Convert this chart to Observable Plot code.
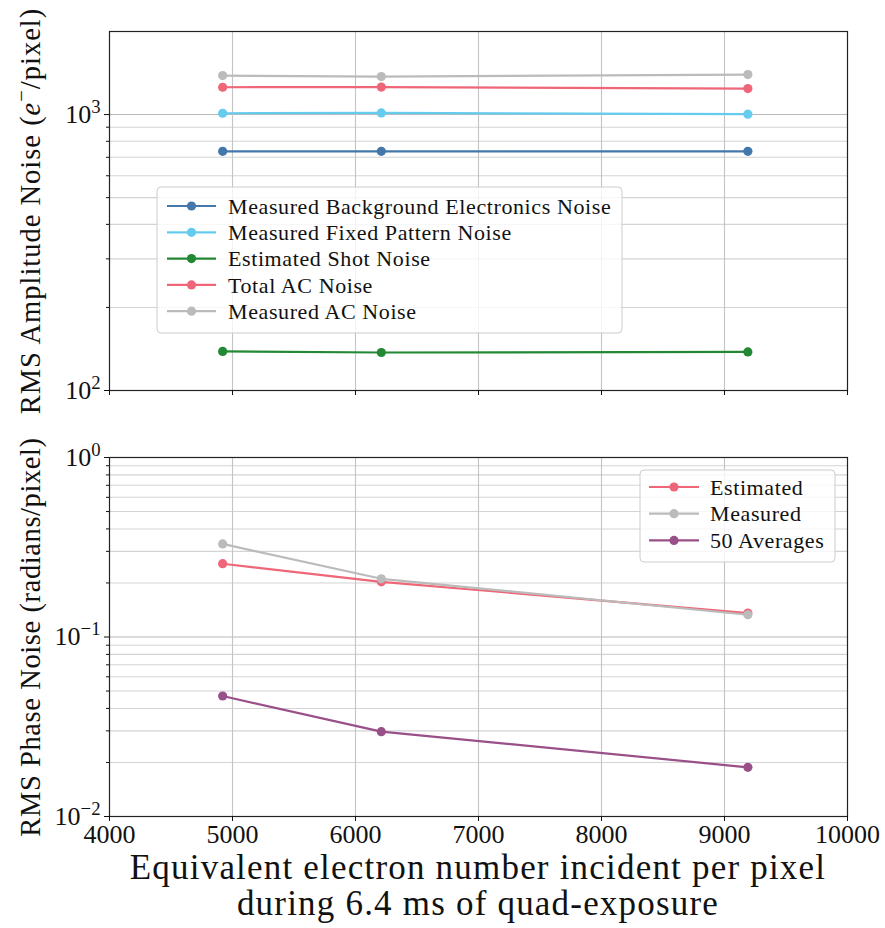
<!DOCTYPE html>
<html>
<head>
<meta charset="utf-8">
<script src="https://cdn.jsdelivr.net/npm/d3@7"></script>
<script src="https://cdn.jsdelivr.net/npm/@observablehq/plot@0.6"></script>
<style>
  body { margin: 0; background: #fff; }
  #wrap { width: 885px; height: 928px; position: relative; font-family: "Liberation Serif", "DejaVu Serif", serif; color: #111; }
  #xlabel { text-align: center; width: 885px; padding-left: 71px; box-sizing: border-box; font-size: 35px; letter-spacing: 1.2px; line-height: 36px; margin-top: 4px; }
</style>
</head>
<body>
<div id="wrap">
  <div id="top"></div>
  <div id="bottom"></div>
  <div id="xlabel">Equivalent electron number incident per pixel<br>during 6.4 ms of quad-exposure</div>
</div>
<script>
// ---------- data ----------
const electrons = [4920, 6210, 9190];

// top panel: RMS amplitude noise (e-/pixel)
const ampSeriesNames = [
  "Measured Background Electronics Noise",
  "Measured Fixed Pattern Noise",
  "Estimated Shot Noise",
  "Total AC Noise",
  "Measured AC Noise"
];
const ampSeriesColors = ["#4477AA", "#66CCEE", "#228833", "#EE6677", "#BBBBBB"];
const backgroundElectronics = [736, 736, 736];
const fixedPattern = [1011, 1014, 1003];
const shotNoise = [138.5, 137.3, 138];
const totalAC = [1256, 1258, 1242];
const measuredAC = [1384, 1373, 1396];
const ampValues = [backgroundElectronics, fixedPattern, shotNoise, totalAC, measuredAC];

// bottom panel: RMS phase noise (radians/pixel)
const phaseSeriesNames = ["Estimated", "Measured", "50 Averages"];
const phaseSeriesColors = ["#EE6677", "#BBBBBB", "#994F88"];
const estimatedPhase = [0.256, 0.203, 0.136];
const measuredPhase = [0.330, 0.211, 0.133];
const averages50Phase = [0.0469, 0.0297, 0.0188];
const phaseValues = [estimatedPhase, measuredPhase, averages50Phase];

// ticks
const xTicks = [4000, 5000, 6000, 7000, 8000, 9000, 10000];
const xGrid = [5000, 6000, 7000, 8000, 9000];
const ampMajor = [100, 1000];
const ampMajorLabels = ["10^2", "10^3"];
const ampMinor = [200, 300, 400, 500, 600, 700, 800, 900];
const phaseMajor = [0.01, 0.1, 1];
const phaseMajorLabels = ["10^\u22122", "10^\u22121", "10^0"];
const phaseMinor = [0.02, 0.03, 0.04, 0.05, 0.06, 0.07, 0.08, 0.09, 0.2, 0.3, 0.4, 0.5, 0.6, 0.7, 0.8, 0.9];

const ampLabel = "RMS Amplitude Noise (e\u2212/pixel)";
const phaseLabel = "RMS Phase Noise (radians/pixel)";

// ---------- helpers ----------
const FONT = '"Liberation Serif", "DejaVu Serif", serif';

function seriesMarks(names, colors, values) {
  const marks = [];
  names.forEach((n, i) => {
    const d = values[i].map((v, j) => ({x: electrons[j], y: v}));
    marks.push(Plot.line(d, {x: "x", y: "y", stroke: colors[i], strokeWidth: 2.2}));
    marks.push(Plot.dot(d, {x: "x", y: "y", fill: colors[i], r: 4.6}));
  });
  return marks;
}

function baseMarks(minor, major) {
  return [
    Plot.ruleY(minor, {stroke: "#d4d4d4", strokeWidth: 1.1}),
    Plot.ruleY(major, {stroke: "#b8b8b8", strokeWidth: 1.1}),
    Plot.ruleX(xGrid, {stroke: "#c4c4c4", strokeWidth: 1.1})
  ];
}

function superscripts(svg) {
  d3.select(svg).selectAll("text").each(function() {
    const m = /^10\^(.+)$/.exec(this.textContent);
    if (m) {
      const sel = d3.select(this);
      sel.text(null);
      sel.append("tspan").text("10");
      sel.append("tspan").attr("font-size", "0.72em").attr("dy", "-0.55em").text(m[1]);
    }
  });
}

function styleLabels(svg) {
  d3.select(svg).selectAll("text").each(function() {
    const t = this.textContent;
    if (t === ampLabel) {
      const sel = d3.select(this).attr("letter-spacing", "1px");
      sel.text(null);
      sel.append("tspan").text("RMS Amplitude Noise (");
      sel.append("tspan").attr("font-style", "italic").text("e");
      sel.append("tspan").attr("font-size", "0.72em").attr("dy", "-0.55em").text("\u2212");
      sel.append("tspan").attr("dy", "0.4em").text("/pixel)");
    } else if (t === phaseLabel) {
      d3.select(this).attr("letter-spacing", "0.6px");
    }
  });
}

function legend(svg, names, colors, box, rowY, lineX0, lineX1, textX) {
  const g = d3.select(svg).append("g").attr("font-family", FONT).attr("text-anchor", "start");
  g.append("rect").attr("x", box.x).attr("y", box.y).attr("width", box.w).attr("height", box.h)
    .attr("rx", 4).attr("fill", "white").attr("fill-opacity", 0.8).attr("stroke", "#cccccc").attr("stroke-width", 1);
  names.forEach((n, i) => {
    const y = rowY[0] + i * rowY[1];
    g.append("line").attr("x1", lineX0).attr("x2", lineX1).attr("y1", y).attr("y2", y)
      .attr("stroke", colors[i]).attr("stroke-width", 2.2);
    g.append("circle").attr("cx", (lineX0 + lineX1) / 2).attr("cy", y).attr("r", 4.6).attr("fill", colors[i]);
    g.append("text").attr("x", textX).attr("y", y).attr("dy", "0.35em").attr("font-size", 22)
      .attr("letter-spacing", "0.6px").attr("text-anchor", "start")
      .attr("fill", "#111").text(n);
  });
}

// ---------- top panel ----------
const topPlot = Plot.plot({
  width: 885,
  height: 420,
  marginLeft: 109,
  marginRight: 38,
  marginTop: 31,
  marginBottom: 30,
  style: {fontFamily: FONT, background: "white", color: "#111", overflow: "visible"},
  x: {domain: [4000, 10000]},
  y: {type: "log", domain: [100, 2000]},
  marks: [
    ...baseMarks(ampMinor, ampMajor),
    ...seriesMarks(ampSeriesNames, ampSeriesColors, ampValues),
    Plot.frame({stroke: "#222", strokeWidth: 1.2}),
    Plot.axisY(ampMinor, {tickSize: 3, tickFormat: () => "", label: null}),
    Plot.axisY(ampMajor, {tickSize: 5, tickPadding: 4, fontSize: 26, tickFormat: (d) => ampMajorLabels[ampMajor.indexOf(d)], label: null}),
    Plot.axisX(xTicks, {tickSize: 5, tickFormat: () => "", label: null}),
    Plot.text([ampLabel], {frameAnchor: "left", textAnchor: "middle", text: (d) => d, rotate: -90, dx: -79, fontSize: 28.5, fill: "#111"})
  ]
});
superscripts(topPlot);
styleLabels(topPlot);
legend(topPlot, ampSeriesNames, ampSeriesColors, {x: 157, y: 187, w: 465, h: 146}, [206, 26.3], 167, 216, 228);
document.getElementById("top").appendChild(topPlot);

// ---------- bottom panel ----------
const bottomPlot = Plot.plot({
  width: 885,
  height: 426,
  marginLeft: 109,
  marginRight: 38,
  marginTop: 37,
  marginBottom: 30,
  style: {fontFamily: FONT, background: "white", color: "#111", overflow: "visible"},
  x: {domain: [4000, 10000]},
  y: {type: "log", domain: [0.01, 1]},
  marks: [
    ...baseMarks(phaseMinor, phaseMajor),
    ...seriesMarks(phaseSeriesNames, phaseSeriesColors, phaseValues),
    Plot.frame({stroke: "#222", strokeWidth: 1.2}),
    Plot.axisY(phaseMinor, {tickSize: 3, tickFormat: () => "", label: null}),
    Plot.axisY(phaseMajor, {tickSize: 5, tickPadding: 4, fontSize: 26, tickFormat: (d) => phaseMajorLabels[phaseMajor.indexOf(d)], label: null}),
    Plot.axisX(xTicks, {tickSize: 5, tickPadding: 3, fontSize: 26, tickFormat: (d) => String(d), label: null}),
    Plot.text([phaseLabel], {frameAnchor: "left", textAnchor: "middle", text: (d) => d, rotate: -90, dx: -79, fontSize: 28.5, fill: "#111"})
  ]
});
superscripts(bottomPlot);
styleLabels(bottomPlot);
legend(bottomPlot, phaseSeriesNames, phaseSeriesColors, {x: 640, y: 50, w: 195, h: 92}, [67, 26.7], 649, 699, 710);
document.getElementById("bottom").appendChild(bottomPlot);
</script>
</body>
</html>
